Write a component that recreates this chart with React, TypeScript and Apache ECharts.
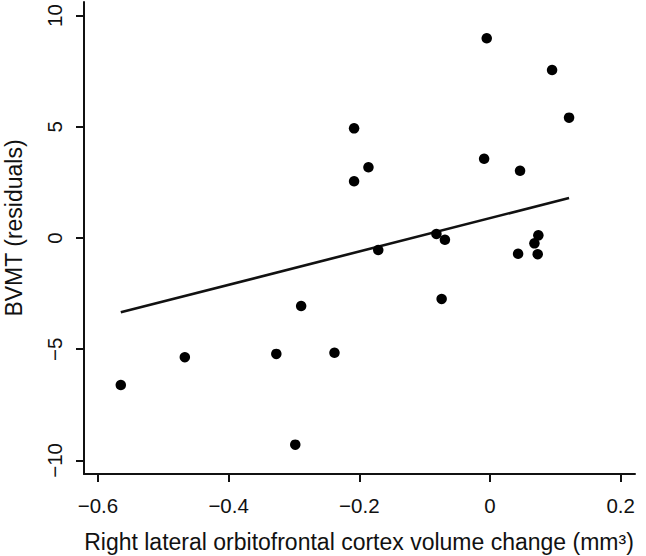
import React, { useEffect, useRef } from "react";
import * as echarts from "echarts";

const volumeChange = [
  -0.005, 0.095, 0.121, -0.208, -0.186, -0.208, -0.009, 0.046, -0.082, -0.069, -0.171,
  0.074, 0.068, 0.043, 0.073, -0.565, -0.467, -0.327, -0.238, -0.298, -0.289, -0.074,
];
const bvmtResiduals = [
  8.98, 7.55, 5.41, 4.93, 3.18, 2.55, 3.56, 3.02, 0.18, -0.08, -0.54,
  0.12, -0.24, -0.71, -0.73, -6.61, -5.36, -5.21, -5.16, -9.29, -3.06, -2.74,
];
const fitX = [-0.565, 0.121];
const fitY = [-3.34, 1.8];
const xTicks = [-0.6, -0.4, -0.2, 0, 0.2];
const yTicks = [-10, -5, 0, 5, 10];
const xTitle = "Right lateral orbitofrontal cortex volume change (mm³)";
const yTitle = "BVMT (residuals)";

const FONT = "'Liberation Sans', Arial, Helvetica, sans-serif";
const INK = "#111111";

const fmt = (v: number) => {
  const s = String(Number(v.toFixed(2)));
  return s.replace("-", "\u2212");
};

export default function App() {
  const ref = useRef<HTMLDivElement>(null);
  useEffect(() => {
    if (!ref.current) return;
    const chart = echarts.init(ref.current, undefined, { renderer: "svg" });
    const points = volumeChange.map((x, i) => [x, bvmtResiduals[i]]);
    const fit = fitX.map((x, i) => [x, fitY[i]]);
    chart.setOption({
      animation: false,
      backgroundColor: "#ffffff",
      grid: { left: 84, right: 11, top: 2, bottom: 82, containLabel: false },
      xAxis: {
        type: "value",
        min: -0.6213,
        max: 0.2219,
        splitLine: { show: false },
        axisLine: { show: true, onZero: false, lineStyle: { color: INK, width: 2 } },
        axisTick: {
          show: true,
          length: 8,
          inside: false,
          customValues: xTicks,
          lineStyle: { color: INK, width: 2 },
        },
        axisLabel: {
          show: true,
          customValues: xTicks,
          margin: 21,
          fontSize: 20.5,
          fontFamily: FONT,
          color: INK,
          formatter: (v: number) => fmt(v),
        },
      },
      yAxis: {
        type: "value",
        min: -10.61,
        max: 10.61,
        splitLine: { show: false },
        axisLine: { show: true, onZero: false, lineStyle: { color: INK, width: 2 } },
        axisTick: {
          show: true,
          length: 8,
          inside: false,
          customValues: yTicks,
          lineStyle: { color: INK, width: 2 },
        },
        axisLabel: {
          show: true,
          customValues: yTicks,
          rotate: 90,
          margin: 19,
          fontSize: 20.5,
          fontFamily: FONT,
          color: INK,
          formatter: (v: number) => fmt(v),
        },
      },
      graphic: [
        {
          type: "text",
          x: 359,
          y: 542,
          style: {
            text: xTitle,
            fontSize: 23,
            fontFamily: FONT,
            fill: INK,
            textAlign: "center",
            textVerticalAlign: "middle",
          },
        },
        {
          type: "text",
          x: 14,
          y: 228,
          rotation: Math.PI / 2,
          style: {
            text: yTitle,
            fontSize: 23,
            fontFamily: FONT,
            fill: INK,
            textAlign: "center",
            textVerticalAlign: "middle",
          },
        },
      ],
      series: [
        {
          type: "line",
          data: fit,
          showSymbol: false,
          symbol: "none",
          lineStyle: { color: INK, width: 2.6 },
          silent: true,
          z: 2,
        },
        {
          type: "scatter",
          data: points,
          symbol: "circle",
          symbolSize: 10.5,
          itemStyle: { color: "#000000", opacity: 1 },
          z: 3,
        },
      ],
    });
    return () => chart.dispose();
  }, []);
  return (
    <div
      ref={ref}
      style={{ position: "absolute", left: 0, top: 0, width: 646, height: 556 }}
    />
  );
}
